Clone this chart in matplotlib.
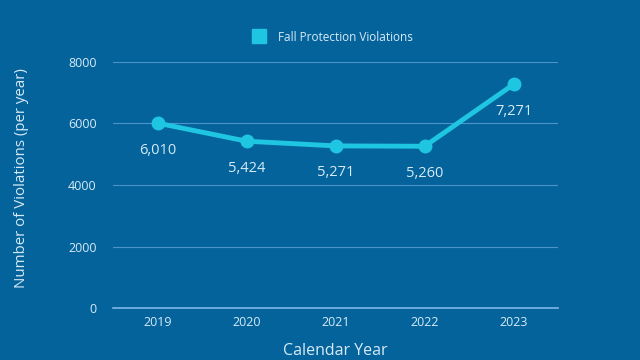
import matplotlib
matplotlib.use("Agg")
import matplotlib.pyplot as plt

plt.rcParams['font.family'] = ['Open Sans', 'DejaVu Sans']

years = [2019, 2020, 2021, 2022, 2023]
violations = [6010, 5424, 5271, 5260, 7271]
labels = ["6,010", "5,424", "5,271", "5,260", "7,271"]

bg = "#05639c"
line_c = "#1fc6e2"
text_c = "#d6ebf7"
grid_c = "#4b93c9"

fig = plt.figure(figsize=(6.4, 3.6), dpi=100, facecolor=bg)
ax = fig.add_axes([0.177, 0.144, 0.695, 0.684], facecolor=bg)

ax.plot(years, violations, color=line_c, lw=3.5, marker="o", ms=9,
        label="Fall Protection Violations", zorder=3)

for x, y, t in zip(years, violations, labels):
    ax.annotate(t, (x, y), xytext=(0, -14), textcoords="offset points",
                ha="center", va="top", color=text_c, fontsize=10.5)

ax.set_xlim(2018.5, 2023.5)
ax.set_ylim(0, 8000)
ax.set_yticks([0, 2000, 4000, 6000, 8000])
ax.set_xticks(years)
ax.yaxis.grid(True, color=grid_c, lw=0.8)
ax.axhline(0, color="#7bb8e6", lw=1.2, clip_on=False)
ax.set_axisbelow(True)
for s in ax.spines.values():
    s.set_visible(False)
ax.tick_params(length=0, colors=text_c, labelsize=9)
ax.tick_params(axis="y", pad=12)
ax.tick_params(axis="x", pad=6)
ax.set_xlabel("Calendar Year", color=text_c, fontsize=11.5, labelpad=10)
ax.set_ylabel("Number of Violations (per year)", color=text_c, fontsize=10.8)
ax.yaxis.set_label_coords(-0.19, 0.53)

h = plt.Line2D([], [], color=line_c, marker="s", ls="", ms=10)
fig.legend([h], ["Fall Protection Violations"], loc="center", bbox_to_anchor=(0.515, 0.897),
           frameon=False, labelcolor=text_c, fontsize=8.5, handletextpad=0.6)

fig.savefig("out.png", dpi=100, facecolor=bg)
